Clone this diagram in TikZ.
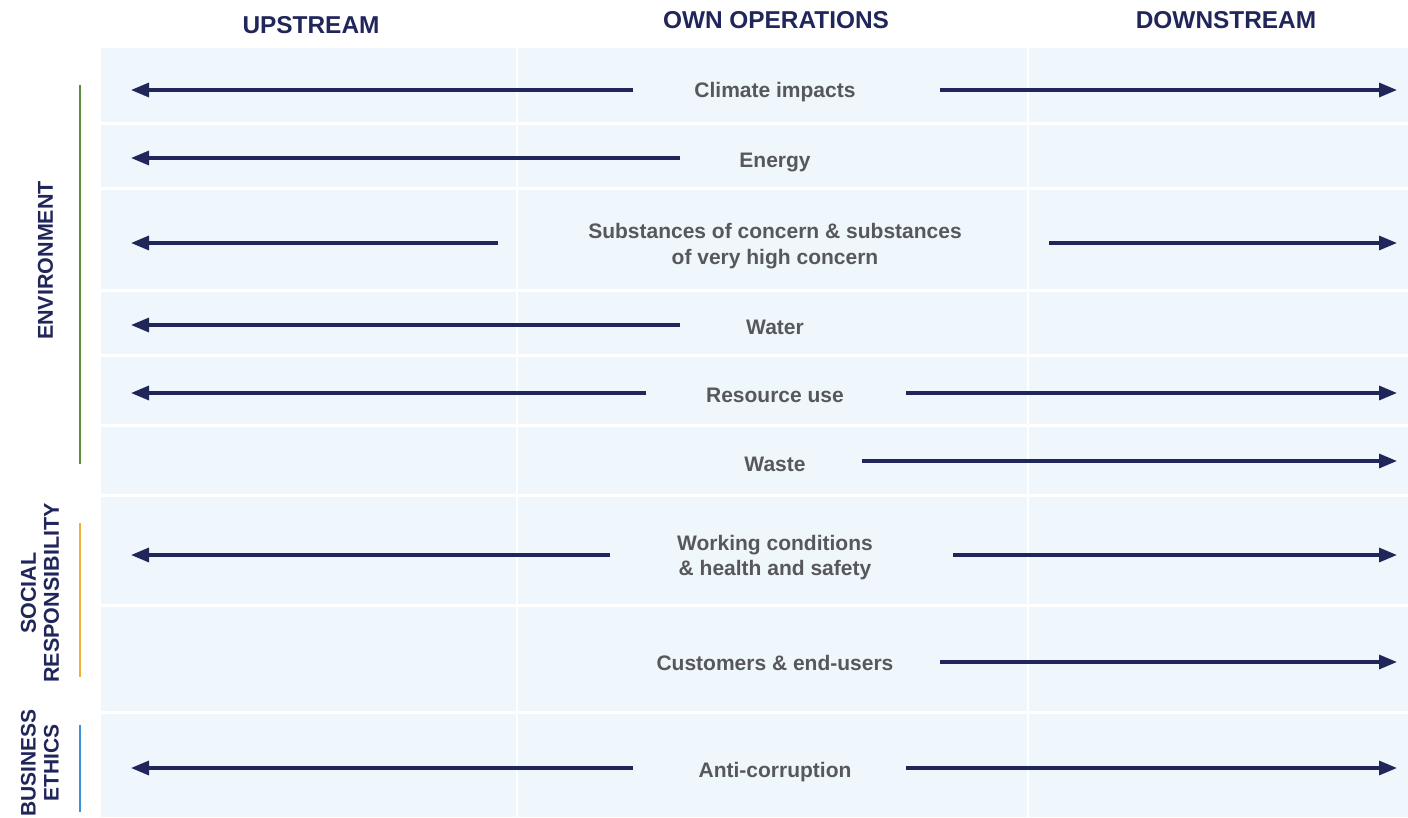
\documentclass[tikz,border=0pt]{standalone}
\usepackage{fontspec}
\setmainfont{Liberation Sans}
\usetikzlibrary{arrows.meta}

\definecolor{navy}{HTML}{20255A}
\definecolor{topicgray}{HTML}{57585B}
\definecolor{panel}{HTML}{EFF7FC}
\definecolor{envgreen}{HTML}{5C8C3C}
\definecolor{socorange}{HTML}{F1B13B}
\definecolor{ethblue}{HTML}{3C93D8}

\begin{document}
\begin{tikzpicture}[x=1pt,y=-1pt,
  flow/.style={draw=navy, line width=3.2pt, -{Triangle[length=18pt,width=14pt]}},
  topic/.style={font=\fontsize{21}{25.5}\selectfont\bfseries, text=topicgray, align=center, inner sep=0pt, anchor=base},
  colhead/.style={font=\fontsize{24.4}{28}\selectfont\bfseries, text=navy, inner sep=0pt, anchor=base},
  pillar/.style={font=\fontsize{21.5}{23}\selectfont\bfseries, text=navy, rotate=90, align=center, inner sep=0pt},
  pillarbar/.style={line width=2.5pt},
  rowgap/.style={draw=white, line width=3pt},
  colgap/.style={draw=white, line width=1.6pt}]

\useasboundingbox (0,0) rectangle (1408,817);

% background panel with row and column gaps
\fill[panel] (101,48) rectangle (1408,817);
\foreach \y in {123,188,290,355,425,495,605,712}
  \draw[rowgap] (101,\y) -- (1408,\y);
\foreach \x in {517,1028}
  \draw[colgap] (\x,48) -- (\x,817);

% column headings
\node[colhead] (up)   at (311,33)   {UPSTREAM};
\node[colhead] (own)  at (776,28.5) {OWN OPERATIONS};
\node[colhead] (down) at (1226,28.5) {DOWNSTREAM};

% pillar labels and their bars
\node[pillar] (env) at (45.5,260.5) {ENVIRONMENT};
\node[pillar] (soc) at (40,593) {SOCIAL\\RESPONSIBILITY};
\node[pillar, font=\fontsize{21}{23}\selectfont\bfseries] (eth) at (40,763) {BUSINESS\\ETHICS};
\coordinate (envA) at (80,85);  \coordinate (envB) at (80,464);
\coordinate (socA) at (80,523); \coordinate (socB) at (80,677);
\coordinate (ethA) at (80,725); \coordinate (ethB) at (80,812);
\draw[pillarbar, envgreen]  (envA) -- (envB);
\draw[pillarbar, socorange] (socA) -- (socB);
\draw[pillarbar, ethblue]   (ethA) -- (ethB);

% topics (base anchor sits on the last line)
\node[topic] (clim)  at (775,97.5)  {Climate impacts};
\node[topic] (enrg)  at (775,167.5) {Energy};
\node[topic] (subst) at (775,264)   {Substances of concern \& substances\\of very high concern};
\node[topic] (water) at (775,334.5) {Water};
\node[topic] (res)   at (775,402.5) {Resource use};
\node[topic] (waste) at (775,471)   {Waste};
\node[topic] (work)  at (775,575.5) {Working conditions\\\& health and safety};
\node[topic] (cust)  at (775,670.5) {Customers \& end-users};
\node[topic] (anti)  at (775,777.5) {Anti-corruption};

% arrow ends: tails beside the topic, tips at the panel edges
\coordinate (climL) at (633,90);   \coordinate (climU) at (131,90);
\coordinate (climR) at (940,90);   \coordinate (climD) at (1397,90);
\coordinate (enrgL) at (680,158);  \coordinate (enrgU) at (131,158);
\coordinate (substL) at (498,243); \coordinate (substU) at (131,243);
\coordinate (substR) at (1049,243);\coordinate (substD) at (1397,243);
\coordinate (waterL) at (680,325); \coordinate (waterU) at (131,325);
\coordinate (resL) at (646,393);   \coordinate (resU) at (131,393);
\coordinate (resR) at (906,393);   \coordinate (resD) at (1397,393);
\coordinate (wasteR) at (862,461); \coordinate (wasteD) at (1397,461);
\coordinate (workL) at (610,555);  \coordinate (workU) at (131,555);
\coordinate (workR) at (953,555);  \coordinate (workD) at (1397,555);
\coordinate (custR) at (940,662);  \coordinate (custD) at (1397,662);
\coordinate (antiL) at (633,768);  \coordinate (antiU) at (131,768);
\coordinate (antiR) at (906,768);  \coordinate (antiD) at (1397,768);

\draw[flow] (climL) -- (climU);
\draw[flow] (climR) -- (climD);
\draw[flow] (enrgL) -- (enrgU);
\draw[flow] (substL) -- (substU);
\draw[flow] (substR) -- (substD);
\draw[flow] (waterL) -- (waterU);
\draw[flow] (resL) -- (resU);
\draw[flow] (resR) -- (resD);
\draw[flow] (wasteR) -- (wasteD);
\draw[flow] (workL) -- (workU);
\draw[flow] (workR) -- (workD);
\draw[flow] (custR) -- (custD);
\draw[flow] (antiL) -- (antiU);
\draw[flow] (antiR) -- (antiD);
\end{tikzpicture}
\end{document}
